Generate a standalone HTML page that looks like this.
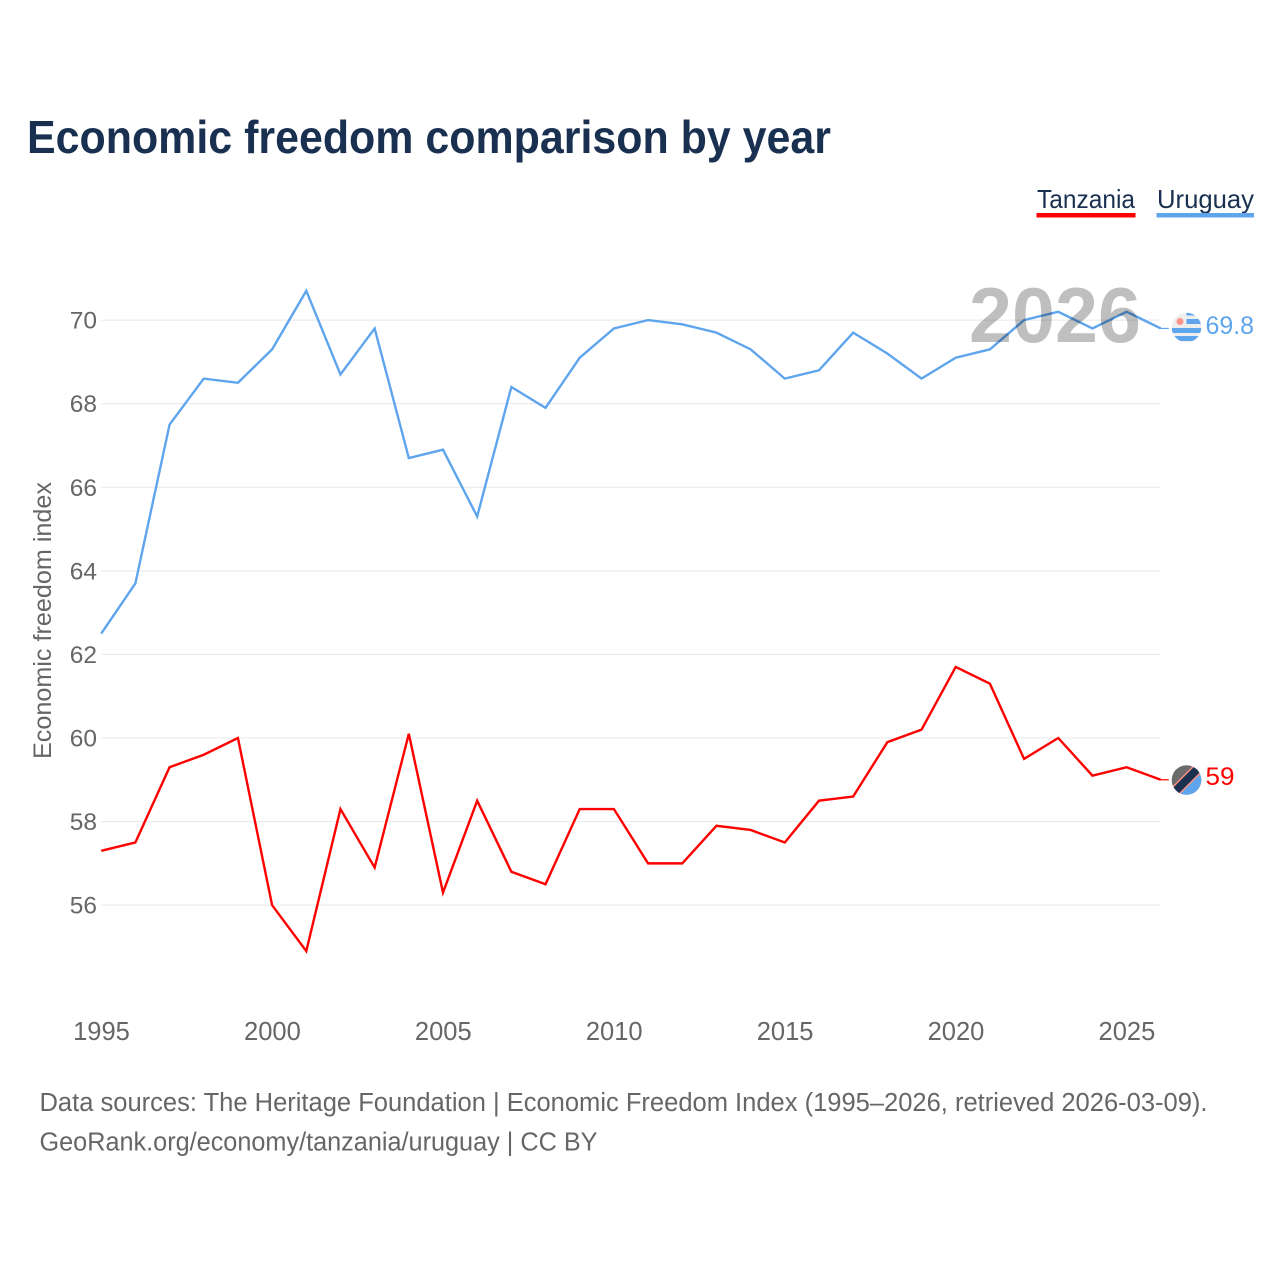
<!DOCTYPE html>
<html lang="en">
<head>
<meta charset="utf-8">
<title>Economic freedom comparison by year</title>
<style>
html,body{margin:0;padding:0;background:#fff;width:1280px;height:1280px;overflow:hidden}
svg{display:block}
text{font-family:"Liberation Sans",sans-serif}
</style>
</head>
<body>
<svg id="chart" width="1280" height="1280" viewBox="0 0 1280 1280" xmlns="http://www.w3.org/2000/svg">
  <defs>
    <clipPath id="flag-uy-clip"><circle cx="1186.500" cy="327.500" r="14.800"/></clipPath>
    <clipPath id="flag-tz-clip"><circle cx="1186.500" cy="780" r="14.800"/></clipPath>
  </defs>
  <rect x="0" y="0" width="1280" height="1280" fill="#ffffff"/>
  <text x="27" y="153" font-size="46" font-weight="700" fill="#1a3050" textLength="804" lengthAdjust="spacingAndGlyphs">Economic freedom comparison by year</text>

  <g>
    <g>
      <text x="1037" y="208" font-size="26" fill="#1a3050" textLength="98" lengthAdjust="spacingAndGlyphs">Tanzania</text>
      <rect x="1036.500" y="213" width="99" height="4.500" fill="#ff0000"/>
    </g>
    <g>
      <text x="1157" y="208" font-size="26" fill="#1a3050" textLength="97" lengthAdjust="spacingAndGlyphs">Uruguay</text>
      <rect x="1156.500" y="213" width="97.500" height="4.500" fill="#5fa5ee"/>
    </g>
  </g>

  <g id="grid"></g>
  <g id="y-ticks"></g>
  <g id="x-ticks"></g>
  <text transform="translate(51 620.500) rotate(-90)" text-anchor="middle" font-size="25" fill="#666666" textLength="277" lengthAdjust="spacingAndGlyphs">Economic freedom index</text>

  <g id="series"></g>

  <text id="year-label" x="969" y="342" font-size="78" font-weight="700" fill="#000000" fill-opacity="0.25" textLength="172" lengthAdjust="spacingAndGlyphs">2026</text>

  <g clip-path="url(#flag-uy-clip)">
    <rect x="1171" y="312" width="31" height="31" fill="#eeeeee"/>
    <rect x="1186.500" y="312" width="16" height="3.500" fill="#5fa5ee"/>
    <rect x="1186.500" y="319" width="16" height="5" fill="#5fa5ee"/>
    <rect x="1171" y="328" width="31" height="5" fill="#5fa5ee"/>
    <rect x="1171" y="336" width="31" height="5" fill="#5fa5ee"/>
    <circle cx="1180" cy="321.500" r="3.500" fill="#ff9488"/>
  </g>

  <g clip-path="url(#flag-tz-clip)">
    <rect x="1171" y="765" width="31" height="31" fill="#6b6b6b"/>
    <polygon points="1202,765 1202,796 1171,796" fill="#5fa5ee"/>
    <line x1="1171" y1="795.500" x2="1202" y2="764.500" stroke="#ff8f82" stroke-width="11"/>
    <line x1="1171" y1="795.500" x2="1202" y2="764.500" stroke="#1a3050" stroke-width="8"/>
  </g>

  <text x="1205.500" y="334" font-size="25" fill="#5fa5ee" textLength="48.500" lengthAdjust="spacingAndGlyphs">69.8</text>
  <text x="1205.500" y="785" font-size="25" fill="#ff0000" textLength="29" lengthAdjust="spacingAndGlyphs">59</text>

  <text x="39.500" y="1111" font-size="25.500" fill="#666666" textLength="1168" lengthAdjust="spacingAndGlyphs">Data sources: The Heritage Foundation | Economic Freedom Index (1995–2026, retrieved 2026-03-09).</text>
  <text x="39.500" y="1150.500" font-size="25.500" fill="#666666" textLength="558" lengthAdjust="spacingAndGlyphs">GeoRank.org/economy/tanzania/uruguay | CC BY</text>
</svg>
<script>
const years = [1995,1996,1997,1998,1999,2000,2001,2002,2003,2004,2005,2006,2007,2008,2009,2010,2011,2012,2013,2014,2015,2016,2017,2018,2019,2020,2021,2022,2023,2024,2025,2026];
const uruguayValues = [62.5,63.7,67.5,68.6,68.5,69.3,70.7,68.7,69.8,66.7,66.9,65.3,68.4,67.9,69.1,69.8,70.0,69.9,69.7,69.3,68.6,68.8,69.7,69.2,68.6,69.1,69.3,70.0,70.2,69.8,70.2,69.8];
const tanzaniaValues = [57.3,57.5,59.3,59.6,60.0,56.0,54.9,58.3,56.9,60.1,56.3,58.5,56.8,56.5,58.3,58.3,57.0,57.0,57.9,57.8,57.5,58.5,58.6,59.9,60.2,61.7,61.3,59.5,60.0,59.1,59.3,59.0];
const yTickValues = [56,58,60,62,64,66,68,70];
const xTickValues = [1995,2000,2005,2010,2015,2020,2025];

const NS = 'http://www.w3.org/2000/svg';
function xScale(year){ return 101.2 + (year - 1995) * 34.18; }
function yScale(value){ return 320.1 + (70 - value) * 41.79; }

const gridGroup = document.getElementById('grid');
const yTickGroup = document.getElementById('y-ticks');
const xTickGroup = document.getElementById('x-ticks');
const seriesGroup = document.getElementById('series');

yTickValues.forEach(function(v){
  const line = document.createElementNS(NS, 'line');
  
  
  line.setAttribute('x1', xScale(1995));
  line.setAttribute('x2', xScale(2026));
  line.setAttribute('y1', yScale(v));
  line.setAttribute('y2', yScale(v));
  line.setAttribute('stroke', '#e8e8e8');
  line.setAttribute('stroke-width', '1');
  gridGroup.appendChild(line);

  const label = document.createElementNS(NS, 'text');
  
  
  label.setAttribute('x', 97);
  label.setAttribute('y', yScale(v) + 8.5);
  label.setAttribute('text-anchor', 'end');
  label.setAttribute('font-size', '24.5');
  label.setAttribute('fill', '#666666');
  label.textContent = String(v);
  yTickGroup.appendChild(label);
});

xTickValues.forEach(function(year){
  const label = document.createElementNS(NS, 'text');
  
  
  label.setAttribute('x', xScale(year) + 0.3);
  label.setAttribute('y', 1040);
  label.setAttribute('text-anchor', 'middle');
  label.setAttribute('font-size', '25.5');
  label.setAttribute('fill', '#666666');
  label.textContent = String(year);
  xTickGroup.appendChild(label);
});

function pathFor(values){
  let d = '';
  values.forEach(function(v, i){
    d += (i === 0 ? 'M' : 'L') + xScale(years[i]).toFixed(2) + ' ' + yScale(v).toFixed(2);
  });
  return d;
}

const uruguayLine = document.createElementNS(NS, 'path');


uruguayLine.setAttribute('d', pathFor(uruguayValues));
uruguayLine.setAttribute('fill', 'none');
uruguayLine.setAttribute('stroke', '#5fa5ee');
uruguayLine.setAttribute('stroke-width', '2.4');
seriesGroup.appendChild(uruguayLine);

const uruguayLeader = document.createElementNS(NS, 'line');


uruguayLeader.setAttribute('x1', xScale(2026));
uruguayLeader.setAttribute('x2', xScale(2026) + 8);
uruguayLeader.setAttribute('y1', yScale(uruguayValues[uruguayValues.length - 1]));
uruguayLeader.setAttribute('y2', yScale(uruguayValues[uruguayValues.length - 1]));
uruguayLeader.setAttribute('stroke', '#5fa5ee');
uruguayLeader.setAttribute('stroke-width', '1.2');
seriesGroup.appendChild(uruguayLeader);

const tanzaniaLine = document.createElementNS(NS, 'path');


tanzaniaLine.setAttribute('d', pathFor(tanzaniaValues));
tanzaniaLine.setAttribute('fill', 'none');
tanzaniaLine.setAttribute('stroke', '#ff0000');
tanzaniaLine.setAttribute('stroke-width', '2.4');
seriesGroup.appendChild(tanzaniaLine);

const tanzaniaLeader = document.createElementNS(NS, 'line');


tanzaniaLeader.setAttribute('x1', xScale(2026));
tanzaniaLeader.setAttribute('x2', xScale(2026) + 8);
tanzaniaLeader.setAttribute('y1', yScale(tanzaniaValues[tanzaniaValues.length - 1]));
tanzaniaLeader.setAttribute('y2', yScale(tanzaniaValues[tanzaniaValues.length - 1]));
tanzaniaLeader.setAttribute('stroke', '#ff0000');
tanzaniaLeader.setAttribute('stroke-width', '1.2');
seriesGroup.appendChild(tanzaniaLeader);
</script>
</body>
</html>
